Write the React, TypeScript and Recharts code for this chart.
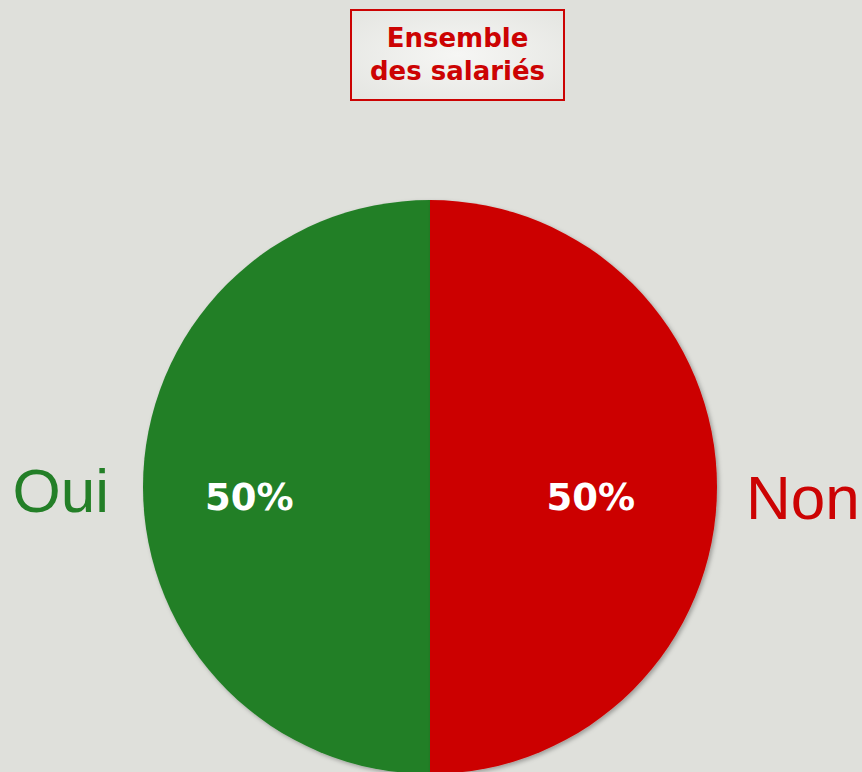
import React from 'react';
import { PieChart, Pie, Cell } from 'recharts';

const CATEGORIES = ['Oui', 'Non'];
const VALUES = [50, 50];
const COLORS = ['#237f27', '#cc0303'];
const TITLE_LINES = ['Ensemble', 'des salariés'];

const data = CATEGORIES.map((name, i) => ({ name, value: VALUES[i] }));

const RADIAN = Math.PI / 180;

// percent inside the slice, category name outside the pie
const renderLabel = (props: any) => {
  const { cx, cy, midAngle, outerRadius, percent, index, name } = props;
  const r = outerRadius * (index === 0 ? 0.63 : 0.56);
  const x = cx + r * Math.cos(-midAngle * RADIAN);
  const left = x < cx;
  const nameX = left ? cx - outerRadius - 34 : cx + outerRadius + 29;
  return (
    <g>
      <text
        x={x}
        y={cy + 10}
        fill="#ffffff"
        textAnchor="middle"
        dominantBaseline="central"
        fontFamily="DejaVu Sans"
        fontWeight="bold"
        fontSize={37}
      >
        {`${(percent * 100).toFixed(0)}%`}
      </text>
      <text
        x={nameX}
        y={cy + (left ? 3 : 10)}
        fill={COLORS[index % COLORS.length]}
        textAnchor={left ? 'end' : 'start'}
        dominantBaseline="central"
        fontFamily="Liberation Sans"
        fontSize={62}
      >
        {name}
      </text>
    </g>
  );
};

const App = () => {
  return (
    <div
      style={{
        position: 'absolute',
        left: 0,
        top: 0,
        width: 862,
        height: 772,
        background: '#dfe0db',
        overflow: 'hidden',
      }}
    >
      <div
        style={{
          position: 'absolute',
          left: 350,
          top: 9,
          width: 211,
          height: 88,
          border: '2px solid #cc0303',
          background: 'radial-gradient(ellipse at center, #f6f6f4 0%, #e4e5e1 100%)',
          display: 'flex',
          flexDirection: 'column',
          alignItems: 'center',
          justifyContent: 'center',
          fontFamily: 'DejaVu Sans',
          fontWeight: 'bold',
          fontSize: 26,
          lineHeight: '33px',
          color: '#cc0303',
        }}
      >
        {TITLE_LINES.map((line) => (
          <div key={line}>{line}</div>
        ))}
      </div>
      <PieChart width={862} height={772} margin={{ top: 0, right: 0, bottom: 0, left: 0 }}>
        <defs>
          <filter id="pieShadow" x="-10%" y="-10%" width="120%" height="120%">
            <feDropShadow dx="2" dy="2" stdDeviation="2" floodColor="#000" floodOpacity="0.3" />
          </filter>
        </defs>
        <Pie
          data={data}
          dataKey="value"
          nameKey="name"
          cx={430}
          cy={487}
          outerRadius={287}
          startAngle={90}
          endAngle={450}
          stroke="none"
          labelLine={false}
          label={renderLabel}
          isAnimationActive={false}
          style={{ filter: 'url(#pieShadow)' }}
        >
          {data.map((entry, index) => (
            <Cell key={`cell-${index}`} fill={COLORS[index % COLORS.length]} />
          ))}
        </Pie>
      </PieChart>
    </div>
  );
};

export default App;
